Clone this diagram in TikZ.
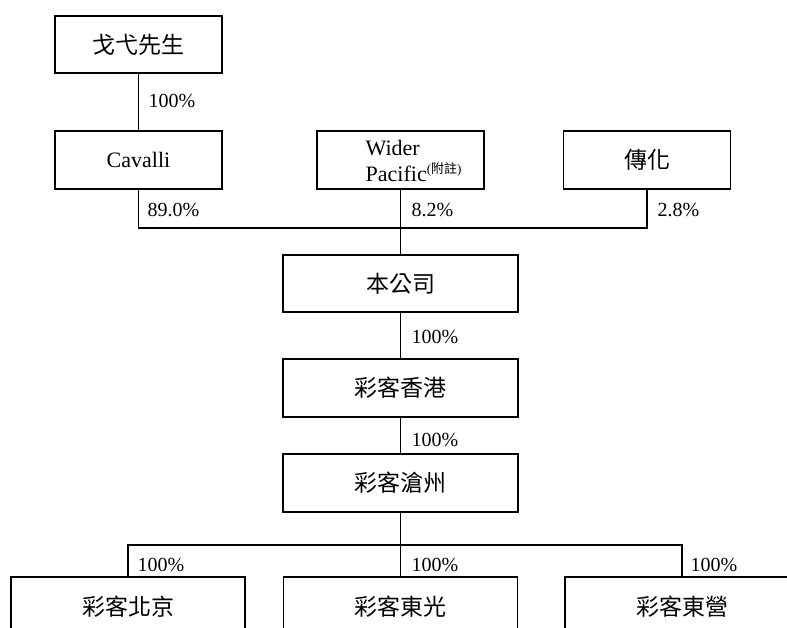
\documentclass[tikz,border=0pt]{standalone}
\usepackage{fontspec}
\setmainfont{Liberation Serif}
\newfontfamily\cjk{Noto Sans CJK TC}
\usepackage{tikz}
\tikzset{firm/.style={draw, line width=1.4pt, minimum width=167pt, minimum height=57pt, inner sep=0pt, font=\fontsize{22}{26}\selectfont},
	wide/.style={firm, minimum width=235pt},
	pct/.style={anchor=west, inner sep=0pt, font=\fontsize{20}{22}\selectfont}}

\begin{document}
\begin{tikzpicture}
		[x=1pt, y=-1pt, line width=1.4pt]
		\useasboundingbox (0,0) rectangle (787,628);
		\clip (0,0) rectangle (787,628);
		% shareholders
		\node[firm] (ge) at (138.5,44.5){\cjk\fontsize{23}{26}\selectfont 戈弋先生};
		\node[firm, minimum height=58pt] (cav) at (138.5,160){Cavalli};
		\node[firm, minimum height=58pt] (wider) at (400.5,160){};
		\node[anchor=west, align=left, inner sep=0pt, font=\fontsize{22}{26}\selectfont] (widertxt) at (365,161){Wider\\Pacific\raisebox{8pt}{\fontsize{13}{13}\selectfont(\cjk 附註\rmfamily)}};
		\node[firm, minimum height=58pt] (ch) at (647,160){\cjk\fontsize{23}{26}\selectfont 傳化};
		% group
		\node[wide] (co) at (400.5,283.5){\cjk\fontsize{23}{26}\selectfont 本公司};
		\node[wide, minimum height=58pt] (hk) at (400.5,388){\cjk\fontsize{23}{26}\selectfont 彩客香港};
		\node[wide, minimum height=58pt] (cz) at (400.5,483){\cjk\fontsize{23}{26}\selectfont 彩客滄州};
		\node[wide, minimum width=234pt, minimum height=60pt] (bj) at (128,607){\cjk\fontsize{23}{26}\selectfont 彩客北京};
		\node[wide, minimum width=234pt, minimum height=60pt] (dg) at (400.5,607){\cjk\fontsize{23}{26}\selectfont 彩客東光};
		\node[wide, minimum width=234pt, minimum height=60pt] (dy) at (682,607){\cjk\fontsize{23}{26}\selectfont 彩客東營};
		\coordinate (bar) at (400.5,228);
		\coordinate (split) at (400.5,545);
		\draw[-] (ge) -- (cav);
		\draw[-] (cav.south) |- (bar) -| (ch.south);
		\draw[-] (wider) -- (co);
		\draw[-] (co) -- (hk);
		\draw[-] (hk) -- (cz);
		\draw[-] (cz) -- (split);
		\draw[-] (bj.north) |- (split) -| (dy.north);
		\draw[-] (split) -- (dg.north);
		% holdings
		\node[pct] (p1) at (148,101){100\%};
		\node[pct] (p2) at (147,210){89.0\%};
		\node[pct] (p3) at (411,210){8.2\%};
		\node[pct] (p4) at (657,210){2.8\%};
		\node[pct] (p5) at (411,337){100\%};
		\node[pct] (p6) at (411,440){100\%};
		\node[pct] (p7) at (137,565){100\%};
		\node[pct] (p8) at (411,565){100\%};
		\node[pct] (p9) at (690,565){100\%};
\end{tikzpicture}
\end{document}
